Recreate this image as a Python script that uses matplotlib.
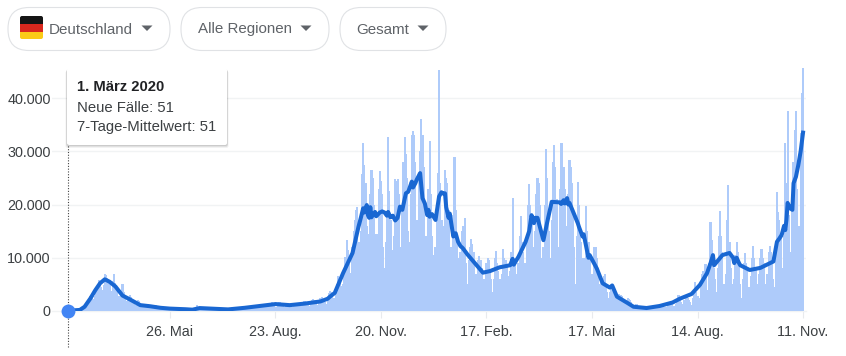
import matplotlib
matplotlib.use("Agg")
import matplotlib.pyplot as plt
from matplotlib.patches import FancyBboxPatch, Rectangle, Polygon

plt.rcParams["font.family"] = ["Liberation Sans", "DejaVu Sans"]

# Neue Faelle pro Tag in Tausend, eine Zeile = eine Woche (So - Sa), ab 1. Maerz 2020
neue_faelle = [
    0.05, 0.05, 0.03, 0.04, 0.13, 0.1, 0.1,
    0.2, 0.3, 0.2, 0.3, 0.4, 0.7, 0.8,
    1.0, 1.2, 1.1, 1.4, 2.0, 2.8, 2.4,
    2.0, 2.2, 2.9, 4.1, 4.5, 5.9, 4.9,
    4.6, 4.0, 4.9, 6.9, 6.8, 6.2, 6.0,
    5.0, 3.8, 3.8, 5.6, 6.9, 5.3, 4.3,
    2.9, 2.5, 2.9, 4.0, 5.0, 3.6, 3.0,
    1.9, 1.8, 2.6, 3.0, 2.6, 2.3, 2.0,
    1.6, 1.2, 1.5, 2.0, 1.8, 1.4, 1.4,
    1.0, 0.8, 1.2, 1.4, 1.3, 1.1, 0.9,
    0.7, 0.6, 0.9, 1.0, 1.2, 0.9, 0.7,
    0.4, 0.5, 0.7, 0.8, 0.7, 0.6, 0.5,
    0.4, 0.3, 0.5, 0.6, 0.6, 0.5, 0.4,
    0.3, 0.2, 0.4, 0.5, 0.5, 0.4, 0.3,
    0.3, 0.2, 0.3, 0.4, 0.4, 0.4, 0.3,
    0.3, 0.2, 0.3, 0.5, 1.1, 0.7, 0.6,
    0.5, 0.4, 0.5, 0.6, 0.7, 0.6, 0.5,
    0.4, 0.3, 0.4, 0.5, 0.5, 0.5, 0.4,
    0.3, 0.3, 0.4, 0.4, 0.5, 0.4, 0.3,
    0.3, 0.2, 0.3, 0.4, 0.4, 0.4, 0.3,
    0.3, 0.3, 0.4, 0.5, 0.6, 0.5, 0.4,
    0.4, 0.4, 0.5, 0.7, 0.7, 0.6, 0.5,
    0.5, 0.5, 0.7, 0.9, 0.9, 0.9, 0.7,
    0.6, 0.6, 0.9, 1.1, 1.2, 1.1, 0.9,
    0.7, 0.7, 1.1, 1.4, 1.6, 1.5, 1.2,
    0.8, 0.7, 1.2, 1.6, 1.6, 1.5, 1.2,
    0.7, 0.6, 1.1, 1.4, 1.4, 1.3, 1.0,
    0.7, 0.7, 1.2, 1.4, 1.5, 1.4, 1.1,
    0.9, 0.9, 1.4, 1.8, 1.8, 1.7, 1.3,
    1.0, 1.0, 1.6, 2.1, 2.2, 2.1, 1.8,
    1.2, 1.1, 1.8, 2.4, 2.6, 2.3, 2.0,
    1.6, 1.4, 2.4, 3.3, 3.7, 3.6, 2.8,
    2.5, 2.3, 4.1, 5.1, 6.6, 6.0, 4.7,
    4.0, 5.0, 7.9, 10.2, 13.4, 11.5, 8.8,
    7.1, 7.0, 12.0, 15.0, 17.0, 19.0, 19.5,
    13.0, 11.5, 15.0, 25.8, 31.5, 27.5, 24.0,
    16.0, 9.5, 14.5, 22.0, 26.5, 25.0, 20.0,
    14.5, 7.0, 14.5, 23.0, 26.2, 24.5, 22.0,
    12.0, 8.0, 13.0, 18.0, 32.7, 22.5, 17.0,
    11.5, 5.0, 14.0, 24.7, 24.5, 24.7, 22.0,
    12.0, 7.0, 19.0, 28.0, 32.7, 29.5, 25.0,
    15.0, 13.0, 22.0, 33.0, 33.8, 33.0, 28.0,
    17.0, 14.0, 25.0, 30.0, 36.0, 33.0, 27.0,
    14.0, 5.0, 14.0, 23.0, 32.0, 22.0, 14.0,
    10.5, 6.0, 12.0, 19.0, 26.0, 45.3, 24.0,
    17.0, 11.0, 16.0, 26.5, 25.0, 24.0, 19.0,
    12.0, 5.0, 12.0, 18.0, 29.0, 19.0, 14.0,
    10.0, 4.0, 11.0, 15.0, 16.0, 14.0, 17.5,
    9.0, 5.0, 9.5, 12.0, 13.5, 12.5, 11.0,
    7.0, 3.5, 7.0, 9.5, 10.3, 9.5, 8.0,
    6.0, 3.5, 6.0, 9.0, 10.0, 9.5, 7.5,
    6.0, 3.5, 6.0, 10.0, 11.3, 9.0, 7.5,
    6.0, 4.5, 7.0, 11.7, 10.0, 9.5, 8.5,
    6.5, 4.5, 7.5, 11.0, 21.2, 10.0, 9.0,
    7.0, 5.0, 9.0, 14.0, 17.8, 13.0, 11.0,
    9.0, 6.0, 13.0, 20.0, 23.8, 20.0, 17.0,
    12.0, 9.0, 15.0, 22.0, 25.0, 24.0, 20.0,
    10.0, 6.0, 12.0, 20.0, 30.4, 25.0, 17.0,
    15.0, 10.0, 17.0, 28.0, 31.2, 27.0, 21.0,
    12.0, 9.0, 23.0, 31.6, 31.6, 27.0, 23.0,
    16.0, 10.0, 22.0, 28.4, 27.0, 24.0, 19.0,
    12.0, 5.0, 14.0, 24.2, 20.0, 16.0, 13.0,
    10.0, 5.0, 10.0, 19.7, 15.0, 13.0, 10.0,
    7.0, 4.0, 7.0, 12.0, 12.0, 10.0, 8.0,
    5.0, 3.0, 6.0, 6.0, 6.5, 7.0, 5.0,
    3.5, 2.5, 3.5, 4.5, 4.2, 4.0, 3.5,
    2.5, 1.5, 2.5, 3.2, 3.0, 2.9, 2.3,
    1.6, 1.2, 1.8, 2.4, 2.3, 2.0, 1.6,
    0.9, 0.6, 1.0, 1.4, 1.3, 1.0, 0.9,
    0.7, 0.4, 0.7, 0.8, 0.8, 0.7, 0.6,
    0.5, 0.3, 0.6, 0.7, 0.7, 0.6, 0.5,
    0.6, 0.5, 0.8, 0.9, 1.0, 0.9, 0.7,
    0.7, 0.5, 1.0, 1.3, 1.5, 1.3, 1.0,
    1.0, 0.8, 1.3, 1.9, 3.0, 2.0, 1.7,
    1.4, 1.0, 2.0, 2.6, 2.7, 2.4, 2.0,
    1.6, 1.2, 2.5, 3.3, 5.5, 3.5, 2.8,
    2.5, 2.0, 4.5, 7.0, 7.5, 8.9, 8.8,
    4.0, 3.5, 9.0, 16.7, 13.3, 10.0, 8.0,
    6.0, 3.5, 8.0, 14.0, 18.7, 14.0, 11.0,
    5.0, 3.0, 7.0, 17.0, 23.7, 13.0, 8.0,
    5.0, 2.5, 6.0, 10.5, 13.0, 11.0, 9.0,
    5.0, 2.5, 6.0, 9.0, 10.9, 9.0, 8.0,
    4.5, 2.5, 6.5, 10.0, 12.2, 10.0, 8.0,
    5.0, 3.0, 7.0, 10.0, 11.6, 10.0, 9.0,
    5.0, 3.0, 7.0, 11.0, 12.2, 11.0, 10.0,
    6.0, 4.5, 10.0, 22.3, 18.6, 17.0, 14.0,
    8.0, 6.0, 14.0, 31.5, 24.0, 37.5, 18.0,
    11.0, 9.0, 22.0, 28.0, 34.0, 37.5, 23.0,
    16.0, 16.0, 33.5, 41.0, 45.6,
]

# 7-Tage-Mittelwert (Tage seit 1. Maerz 2020, Wert in Tausend), Zeilen passen zueinander
mittel_tage = [
    0, 10, 14, 19, 23, 27, 31, 35, 40, 46, 52, 61, 69, 78, 86, 99, 105, 111,
    124, 135, 149, 162, 175, 187, 200, 213, 219, 221, 225, 232, 240,
    245, 247, 249, 250, 252, 253, 254, 255, 256, 257, 259, 260, 263, 265, 267,
    269, 270, 272, 274, 276, 278, 280, 282, 285, 287, 290, 291, 293, 294, 297,
    299, 301, 303, 304, 305, 307, 310, 312, 313, 315, 317, 318, 319, 321, 322,
    324, 325, 327, 329, 331, 333, 335, 337, 342, 350, 356, 364, 373, 375, 376,
    380, 386, 389, 391, 393, 394, 396, 401, 405, 408, 415, 416, 418, 419, 421,
    422, 423, 430, 431, 434, 435, 439, 440, 446, 451, 457, 459, 463, 472,
    477, 488, 499, 510, 516, 526, 533, 539, 542, 544, 545, 552, 558, 561, 562,
    564, 566, 567, 575, 584, 595, 598, 600, 602, 604, 605, 606, 607, 609, 611,
    612, 614, 616, 618, 620,
]
mittel_werte = [
    0.05, 0.2, 0.8, 2.4, 3.9, 5.2, 5.95, 5.5, 4.6, 2.9, 2.2, 1.1, 0.9, 0.6, 0.45,
    0.33, 0.25, 0.55, 0.42, 0.3, 0.6, 0.95, 1.3, 1.1, 1.4, 1.8, 2.3, 2.7, 3.4, 7.1, 10.9,
    15.8, 17.5, 19.3, 18.5, 19.9, 18.0, 17.5, 19.5, 17.6, 18.0, 18.6, 17.8, 18.5, 18.7, 18.5,
    17.9, 18.6, 17.6, 17.9, 17.0, 17.5, 19.6, 19.0, 22.1, 22.4, 24.3, 23.2, 24.0, 24.6, 25.9,
    21.2, 20.2, 18.0, 19.0, 17.7, 18.2, 17.1, 20.0, 21.5, 22.3, 22.0, 22.1, 19.5, 17.5, 18.3,
    15.5, 14.0, 14.6, 13.0, 12.2, 11.8, 11.2, 10.6, 9.3, 7.2, 7.5, 8.2, 8.6, 9.8, 8.7,
    10.2, 13.0, 15.0, 18.0, 16.5, 17.5, 17.5, 13.3, 17.5, 20.5, 20.4, 20.1, 20.8, 20.2, 21.2,
    20.0, 20.3, 16.5, 15.8, 14.0, 14.4, 10.0, 10.5, 8.0, 5.2, 4.4, 4.8, 2.7, 1.5,
    0.8, 0.56, 0.94, 1.6, 2.3, 3.2, 4.9, 7.1, 9.0, 10.5, 8.6, 10.5, 10.9, 10.0, 9.0,
    10.0, 9.0, 8.6, 7.7, 8.1, 9.3, 13.0, 13.6, 14.3, 16.0, 15.2, 17.1, 20.3, 19.3, 19.0,
    24.0, 25.2, 27.4, 30.0, 33.5,
]

y_ticks = [0, 10000, 20000, 30000, 40000]
x_tick_tage = [86, 175, 264, 353, 442, 531, 620]
x_tick_labels = ["26. Mai", "23. Aug.", "20. Nov.", "17. Feb.", "17. Mai", "14. Aug.", "11. Nov."]

tage = list(range(len(neue_faelle)))
faelle = [v * 1000 for v in neue_faelle]
mittel = [v * 1000 for v in mittel_werte]

W, H = 846, 356
fig = plt.figure(figsize=(W / 100, H / 100), dpi=100, facecolor="white")

# Plotbereich: x 52..806 px, y 60..311 px (Nulllinie unten)
ax = fig.add_axes([52 / W, 1 - 311 / H, (806 - 52) / W, (311 - 60) / H])
ax.set_xlim(-13.5, 622.5)
ax.set_ylim(0, 47140)

ax.bar(tage, faelle, width=1.8, color="#aecbfa", linewidth=0, zorder=2)
ax.plot(mittel_tage, mittel, color="#1967d2", linewidth=2.9, solid_joinstyle="round", zorder=3)
ax.plot([0], [51], "o", color="#4285f4", markersize=10, markeredgewidth=0, zorder=5, clip_on=False)
ax.plot([0, 0], [-6800, 32000], color="#444444", linewidth=0.8, linestyle=(0, (1, 1.5)), zorder=4, clip_on=False)

for s in ax.spines.values():
    s.set_visible(False)
ax.set_yticks(y_ticks)
ax.set_yticklabels([f"{v:,}".replace(",", ".") for v in y_ticks])
ax.set_xticks(x_tick_tage)
ax.set_xticklabels(x_tick_labels)
ax.tick_params(axis="y", length=0, pad=1, labelsize=10.4, labelcolor="#3c4043")
ax.tick_params(axis="x", length=5, width=0.8, color="#e8eaed", pad=5, labelsize=10.4, labelcolor="#3c4043")
ax.grid(axis="y", color="#f1f3f4", linewidth=1, zorder=1)
ax.set_axisbelow(True)
ax.patch.set_alpha(0)
# Nulllinie liegt auf dem Rand, nicht abschneiden
ax.get_ygridlines()[0].set_clip_on(False)

# Bedienelemente und Tooltip in Pixelkoordinaten
ui = fig.add_axes([0, 0, 1, 1])
ui.set_xlim(0, W)
ui.set_ylim(H, 0)
ui.axis("off")
ui.patch.set_alpha(0)

def pill(x0, x1, label, tx):
    ui.add_patch(FancyBboxPatch((x0 + 21, 7.5 + 21), x1 - x0 - 42, 1, boxstyle="round,pad=21",
                                fc="white", ec="#e0e2e5", lw=0.8))
    ui.text(tx, 29.5, label, fontsize=10.9, color="#5f6368", va="center", ha="left")
    mx = x1 - 23
    ui.add_patch(Polygon([[mx - 5.5, 25.5], [mx + 5.5, 25.5], [mx, 31]], fc="#5f6368", ec="none"))

pill(8, 170, "Deutschland", 49)
pill(181, 329, "Alle Regionen", 198)
pill(340, 446, "Gesamt", 356)

# Flagge
rand = FancyBboxPatch((22, 18), 19, 19, boxstyle="round,pad=2", fc="none", ec="none")
ui.add_patch(rand)
for y0, h, c in [(16, 8, "#151515"), (24, 7.5, "#d9281e"), (31.5, 7.5, "#fbcb17")]:
    r = Rectangle((20, y0), 23, h, fc=c, ec="none")
    ui.add_patch(r)
    r.set_clip_path(rand)

# Tooltip mit Schatten
for off, a in [(3, 0.05), (2, 0.07), (1, 0.09)]:
    ui.add_patch(FancyBboxPatch((67 + 2 - off / 2, 68 + 2 + off), 160 - 4 + off, 77 - 4, boxstyle="round,pad=2",
                                fc="black", ec="none", alpha=a))
ui.add_patch(FancyBboxPatch((69, 70), 156, 73, boxstyle="round,pad=2", fc="white", ec="none"))
ui.text(77, 87, "1. März 2020", fontsize=10.7, fontweight="bold", color="#202124", va="center")
ui.text(77, 107.5, "Neue Fälle: 51", fontsize=10.7, color="#3c4043", va="center")
ui.text(77, 127.5, "7-Tage-Mittelwert: 51", fontsize=10.7, color="#3c4043", va="center")

fig.savefig("out.png", dpi=100)
